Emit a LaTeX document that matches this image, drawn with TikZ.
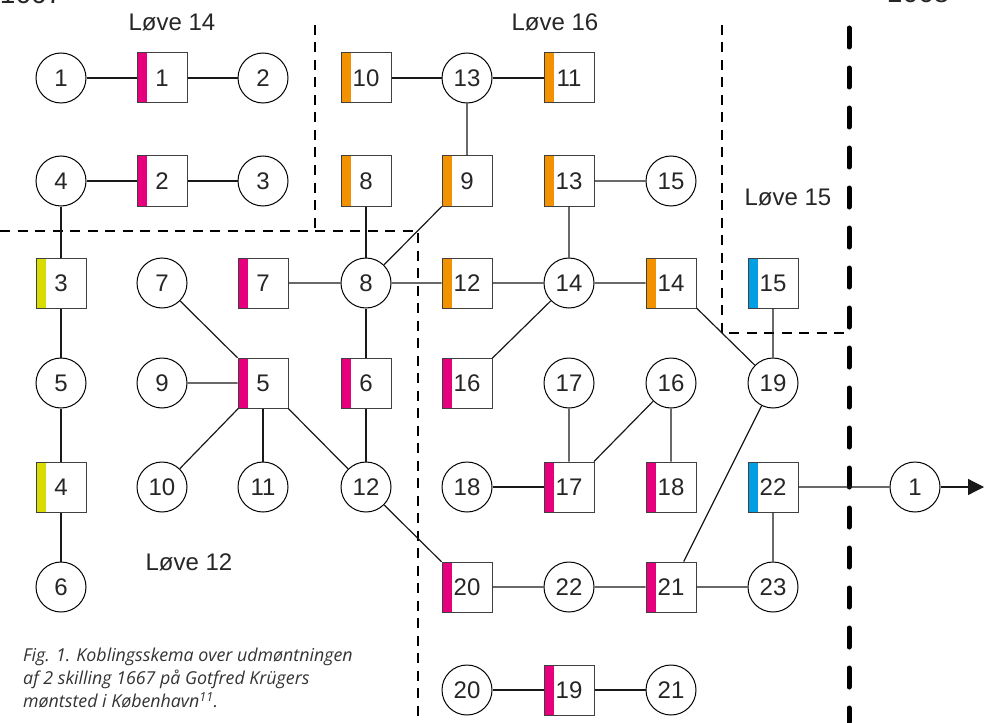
\documentclass[tikz,border=0pt]{standalone}
\usepackage{fontspec}
\setmainfont{Liberation Sans}
\newfontfamily\capfont{Open Sans}
\usetikzlibrary{arrows.meta}
\definecolor{lovepink}{HTML}{E6007E}
\definecolor{loveorange}{HTML}{F39200}
\definecolor{loveyellow}{HTML}{D9DC00}
\definecolor{loveblue}{HTML}{009FE3}
\tikzset{
  die/.style={circle, draw, line width=1pt, minimum size=50pt, inner sep=0pt,
    text=black!85, font=\fontsize{24}{24}\selectfont},
  punch/.style={draw=black!75, fill=white, line width=1pt, minimum size=50pt, inner sep=0pt,
    text=black!85, font=\fontsize{24}{24}\selectfont,
    path picture={\fill[#1] (path picture bounding box.north west)
      rectangle ([xshift=10pt]path picture bounding box.south west);}},
  link/.style={line width=1.2pt, black!90},
  border/.style={line width=2.8pt, dash pattern=on 10pt off 7.5pt},
  yearline/.style={line width=5pt, line cap=round, dash pattern=on 19pt off 21pt},
  lovelabel/.style={text=black!85, font=\fontsize{24}{24}\selectfont}
}
\begin{document}
\begin{tikzpicture}[x=1pt, y=-1pt]
  \useasboundingbox (0,0) rectangle (984,722);
  % borders between the dies
  \draw[border] (315,25) -- (315,230);
  \draw[border] (0,231) -- (418,231) -- (418,722);
  \draw[border] (722,25) -- (722,333) -- (848,333);
  \draw[yearline] (849,28) -- (849,722);
  % circles
  \foreach \n/\x/\y in {1/61/78, 2/263/78, 13/467/78,
      4/61/181, 3/263/181, 15/671/181,
      7/162/283, 8/366/283, 14/569/283,
      5/61/383, 9/162/383, 17/569/383, 16/671/383, 19/773/383,
      10/162/487, 11/263/487, 12/366/487, 18/467/487,
      6/61/587, 22/569/587, 23/773/587,
      20/467/690, 21/671/690}
    \node[die] (c\n) at (\x,\y) {\n};
  \node[die] (nxt) at (915,487) {1};
  \coordinate (arrowend) at (984,487);
  % squares
  \foreach \n/\x/\y/\col in {1/162/78/lovepink, 10/366/78/loveorange, 11/569/78/loveorange,
      2/162/181/lovepink, 8/366/181/loveorange, 9/467/181/loveorange, 13/569/181/loveorange,
      3/61/283/loveyellow, 7/263/283/lovepink, 12/467/283/loveorange,
      14/671/283/loveorange, 15/773/283/loveblue,
      5/263/383/lovepink, 6/366/383/lovepink, 16/467/383/lovepink,
      4/61/487/loveyellow, 17/569/487/lovepink, 18/671/487/lovepink, 22/773/487/loveblue,
      20/467/587/lovepink, 21/671/587/lovepink,
      19/569/690/lovepink}
    \node[punch=\col] (s\n) at (\x,\y) {\n};
  % links
  \draw[link] (c1) -- (s1) -- (c2);
  \draw[link] (c4) -- (s2) -- (c3);
  \draw[link] (c4) -- (s3) -- (c5) -- (s4) -- (c6);
  \draw[link] (s10) -- (c13) -- (s11);
  \draw[link] (c13) -- (s9) -- (c8);
  \draw[link] (s8) -- (c8) -- (s6) -- (c12);
  \draw[link] (s7) -- (c8) -- (s12) -- (c14) -- (s14) -- (c19) -- (s15);
  \draw[link] (c15) -- (s13) -- (c14) -- (s16);
  \draw[link] (c7) -- (s5) -- (c12) -- (s20) -- (c22) -- (s21) -- (c23) -- (s22) -- (nxt);
  \draw[link] (c9) -- (s5) -- (c10);
  \draw[link] (s5) -- (c11);
  \draw[link] (s21) -- (c19);
  \draw[link] (c17) -- (s17) -- (c16) -- (s18);
  \draw[link] (c18) -- (s17);
  \draw[link] (c20) -- (s19) -- (c21);
  \draw[link, -{Triangle[length=16pt, width=16pt]}] (nxt) -- (arrowend);
  % labels
  \node[lovelabel] (l14) at (172,22) {Løve 14};
  \node[lovelabel] (l16) at (555,22) {Løve 16};
  \node[lovelabel] (l15) at (788,197) {Løve 15};
  \node[lovelabel] (l12) at (189,562) {Løve 12};
  \node[lovelabel, anchor=base, font=\fontsize{28}{28}\selectfont] (y1667) at (31,4) {1667};
  \node[lovelabel, anchor=base, font=\fontsize{28}{28}\selectfont] (y1668) at (918,3) {1668};
  \node[anchor=north west, align=left, inner sep=0pt, text=black!80,
    font=\capfont\itshape\fontsize{17.8}{23}\selectfont] (caption) at (23,648)
    {Fig. 1. Koblingsskema over udmøntningen\\af 2 skilling 1667 på Gotfred Krügers\\møntsted i København\textsuperscript{11}.};
\end{tikzpicture}
\end{document}
